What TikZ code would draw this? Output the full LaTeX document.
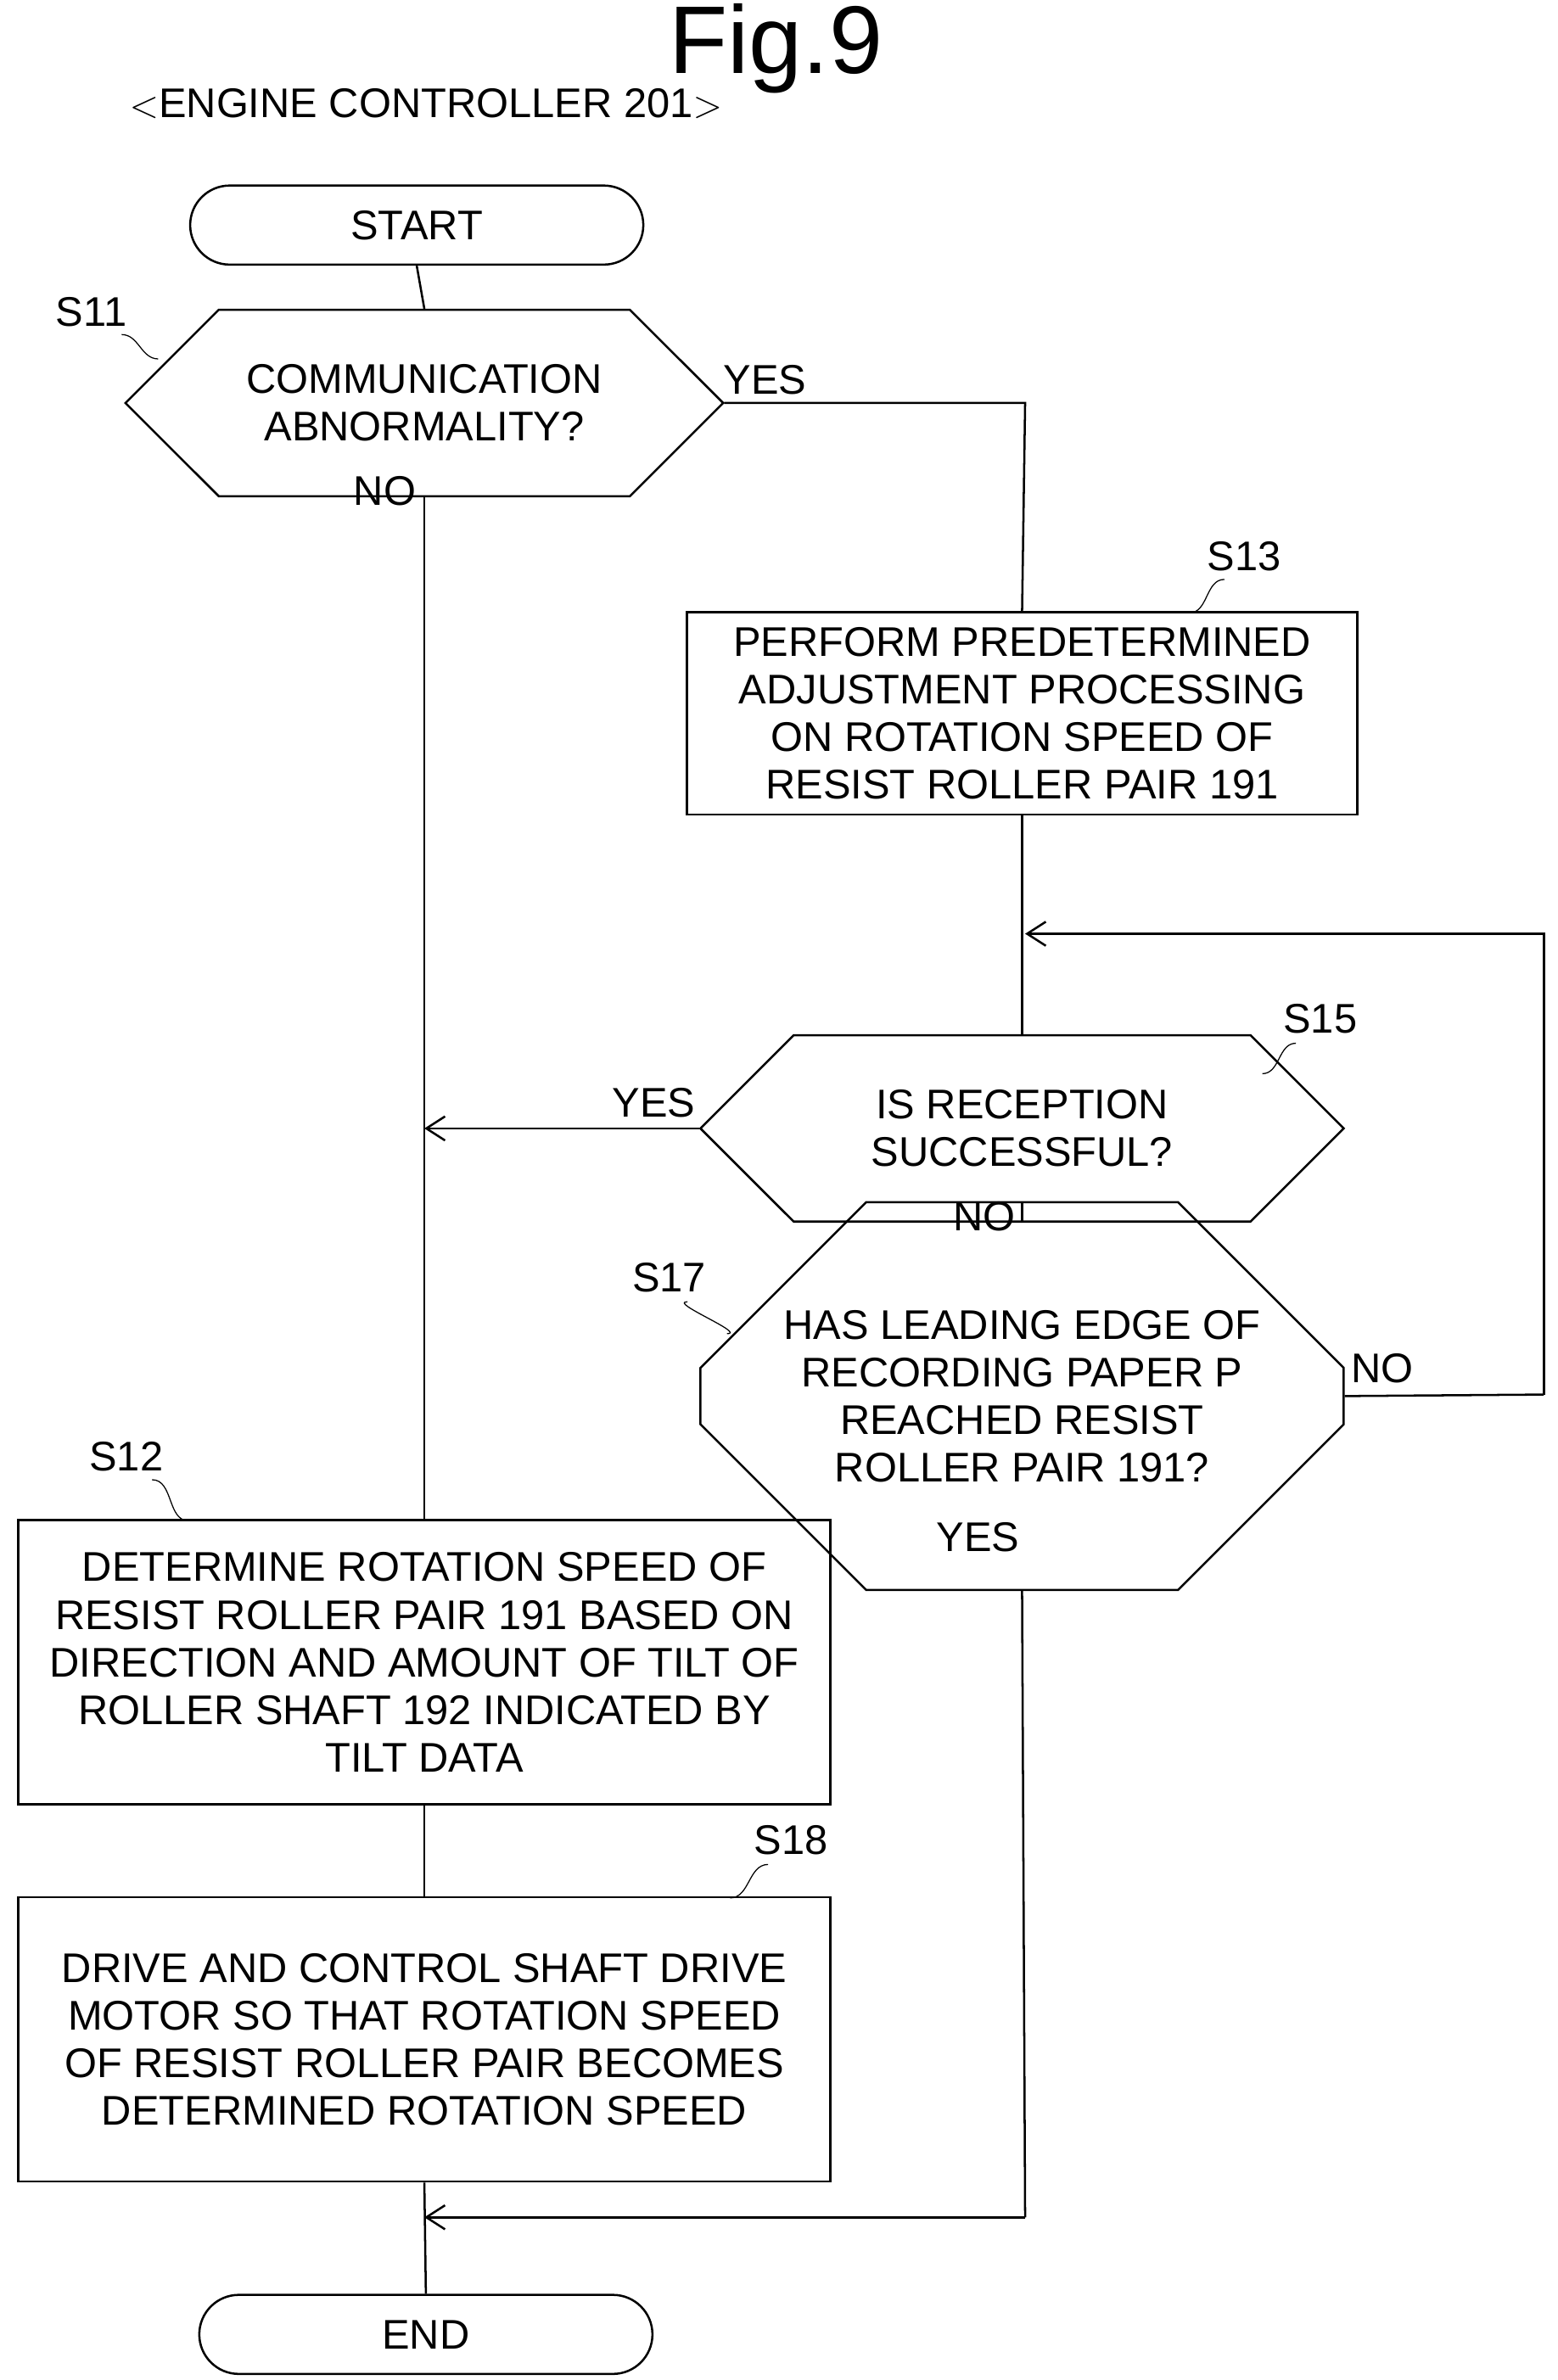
\documentclass[tikz,border=0pt]{standalone}
\usepackage{fontspec}
\setmainfont{Liberation Sans}
\usetikzlibrary{shapes.misc,arrows.meta,positioning}
\tikzset{
  txt/.style = {align=center, inner sep=0pt, font=\fontsize{15.5}{17.8}\selectfont},
  term/.style = {txt, draw, rectangle, rounded corners=0.52cm, minimum width=5.96cm, minimum height=1.04cm, thick},
  proc/.style = {txt, draw, rectangle, thick},
  dec/.style = {txt, draw, chamfered rectangle, chamfered rectangle xsep=0.76cm, thick},
  lbl/.style = {txt},
  flow/.style = {thick},
  arr/.style = {thick, -{Straight Barb[length=7pt,width=9pt]}},
}
\begin{document}
\begin{tikzpicture}[x=0.02cm,y=-0.02cm]
  \useasboundingbox (0,0) rectangle (1024,1565);
% title
  \node[txt, font=\fontsize{36}{40}\selectfont] (fig) at (510,32) {Fig.9};
  \node[txt] (ctrl) at (280,68) {$<$ENGINE CONTROLLER 201$>$};
% shapes
  \node[term] (start) at (274,148) {START};
  \node[dec, chamfered rectangle ysep=0.72cm, minimum width=7.86cm, minimum height=1.44cm] (s11) at (279,265) {COMMUNICATION\\ABNORMALITY?};
  \node[proc, minimum width=8.82cm, minimum height=2.66cm] (s13) at (672,469) {PERFORM PREDETERMINED\\ADJUSTMENT PROCESSING\\ON ROTATION SPEED OF\\RESIST ROLLER PAIR 191};
  \node[dec, chamfered rectangle ysep=0.72cm, minimum width=8.46cm, minimum height=1.44cm] (s15) at (672,742) {IS RECEPTION\\SUCCESSFUL?};
  \node[dec, chamfered rectangle ysep=1.42cm, minimum width=8.46cm, minimum height=2.84cm] (s17) at (672,918) {HAS LEADING EDGE OF\\RECORDING PAPER P\\REACHED RESIST\\ROLLER PAIR 191?};
  \node[proc, minimum width=10.68cm, minimum height=3.74cm] (s12) at (279,1093) {DETERMINE ROTATION SPEED OF\\RESIST ROLLER PAIR 191 BASED ON\\DIRECTION AND AMOUNT OF TILT OF\\ROLLER SHAFT 192 INDICATED BY\\TILT DATA};
  \node[proc, minimum width=10.68cm, minimum height=3.74cm] (s18) at (279,1341) {DRIVE AND CONTROL SHAFT DRIVE\\MOTOR SO THAT ROTATION SPEED\\OF RESIST ROLLER PAIR BECOMES\\DETERMINED ROTATION SPEED};
  \node[term] (end) at (280,1535) {END};
% step labels
  \node[lbl] (l11) at (60,205) {S11};
  \node[lbl] (l13) at (818,366) {S13};
  \node[lbl] (l15) at (868,670) {S15};
  \node[lbl] (l17) at (440,840) {S17};
  \node[lbl] (l12) at (83,958) {S12};
  \node[lbl] (l18) at (520,1210) {S18};
  \draw[thin] (80,220) to[out=0,in=180] (104,236);
  \draw[thin] (805,381) to[out=180,in=0] (782,403);
  \draw[thin] (852,686) to[out=180,in=0] (830,706);
  \draw[thin] (452,856) to[out=180,in=0] (478,877);
  \draw[thin] (100,973) to[out=0,in=180] (124,1000);
  \draw[thin] (505,1226) to[out=180,in=0] (480,1248);
% coordinates
  \coordinate (c1) at (674,265);
  \coordinate (c2) at (279,742);
  \coordinate (c3) at (1015,917);
  \coordinate (c4) at (1015,614);
  \coordinate (c5) at (674,614);
  \coordinate (c6) at (674,1458);
  \coordinate (c7) at (279,1458);
% connectors
  \draw[flow] (start.south) -- (s11.north);
  \draw[flow] (s11.south) -- (s12.north);
  \draw[flow] (s11.east) -- (c1) -- (s13.north);
  \draw[flow] (s13.south) -- (s15.north);
  \draw[arr] (c3) -- (c4) -- (c5);
  \draw[flow] (s17.east) -- (c3);
  \draw[arr] (s15.west) -- (c2);
  \draw[flow] (s15.south) -- (s17.north);
  \draw[flow] (s17.south) -- (c6);
  \draw[arr] (c6) -- (c7);
  \draw[flow] (s12.south) -- (s18.north);
  \draw[flow] (s18.south) -- (end.north);
% branch labels
  \node[lbl] (y11) at (503,250) {YES};
  \node[lbl] (n11) at (253,323) {NO};
  \node[lbl] (y15) at (430,725) {YES};
  \node[lbl] (n15) at (647,800) {NO};
  \node[lbl] (n17) at (909,900) {NO};
  \node[lbl] (y17) at (643,1011) {YES};
\end{tikzpicture}
\end{document}
